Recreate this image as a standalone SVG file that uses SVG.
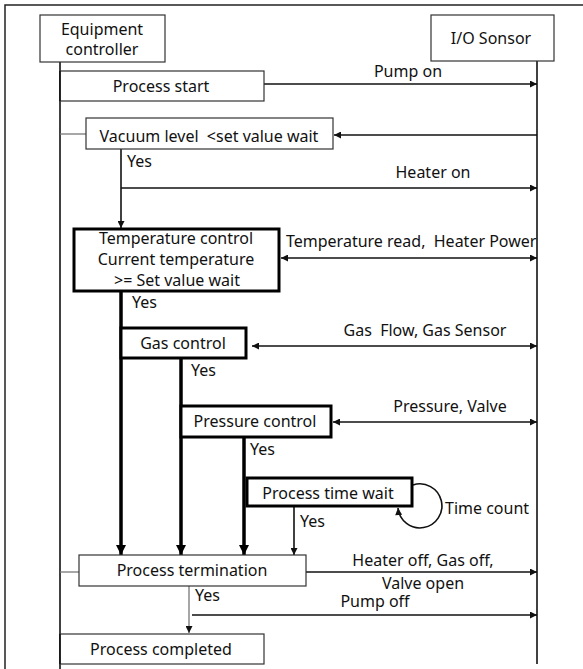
<svg xmlns="http://www.w3.org/2000/svg" width="583" height="669" viewBox="0 0 583 669">
<style>
text{font-family:"Noto Sans","Open Sans",sans-serif;font-size:16px;fill:#111;text-anchor:middle;white-space:pre}
.l{text-anchor:start}
.box{fill:#fff;stroke:#333;stroke-width:1.2}
.tbox{fill:#fff;stroke:#000;stroke-width:3}
.ln{fill:none;stroke:#111;stroke-width:1.6}
.gl{fill:none;stroke:#777;stroke-width:1.3}
.th{fill:none;stroke:#000;stroke-width:3.5}
</style>
<defs>
<marker id="a" viewBox="0 0 10 10" refX="10" refY="5" markerWidth="8" markerHeight="7" markerUnits="userSpaceOnUse" orient="auto-start-reverse"><path d="M0,0 L10,5 L0,10 z" fill="#111"/></marker>
<marker id="b" viewBox="0 0 10 10" refX="10" refY="5" markerWidth="10" markerHeight="10" markerUnits="userSpaceOnUse" orient="auto"><path d="M0,0 L10,5 L0,10 z" fill="#000"/></marker>
</defs>
<rect x="5" y="5" width="600" height="700" fill="#fff" stroke="#222" stroke-width="1.5"/>
<g id="connectors">
<line class="ln" x1="60" y1="62" x2="60" y2="669"/>
<line class="ln" x1="537" y1="61" x2="537" y2="664"/>
<line class="ln" x1="264" y1="84" x2="537" y2="84" marker-end="url(#a)"/>
<line class="gl" x1="60" y1="134" x2="86" y2="134"/>
<line class="ln" x1="537" y1="135" x2="334" y2="135" marker-end="url(#a)"/>
<line class="ln" x1="121" y1="149" x2="121" y2="228" marker-end="url(#a)"/>
<line class="ln" x1="121" y1="188" x2="537" y2="188" marker-end="url(#a)"/>
<line class="ln" x1="281" y1="258" x2="537" y2="258" marker-start="url(#a)" marker-end="url(#a)"/>
<line class="ln" x1="252" y1="346" x2="537" y2="346" marker-start="url(#a)" marker-end="url(#a)"/>
<line class="ln" x1="333" y1="422" x2="537" y2="422" marker-start="url(#a)" marker-end="url(#a)"/>
<line class="th" x1="121" y1="291" x2="121" y2="555" marker-end="url(#b)"/>
<line class="th" x1="181" y1="358" x2="181" y2="555" marker-end="url(#b)"/>
<line class="th" x1="244" y1="437" x2="244" y2="555" marker-end="url(#b)"/>
<line class="ln" x1="294" y1="506" x2="294" y2="555" marker-end="url(#a)"/>
<path class="ln" d="M413 485 A22 22 0 1 1 398 508" marker-end="url(#a)"/>
<line class="gl" x1="60" y1="572" x2="79" y2="572"/>
<line class="ln" x1="306" y1="572" x2="537" y2="572" marker-end="url(#a)"/>
<line class="gl" x1="189" y1="586" x2="189" y2="633" marker-end="url(#a)"/>
<line class="ln" x1="192" y1="615" x2="537" y2="615" marker-end="url(#a)"/>
</g>
<g id="equipment-controller"><rect class="box" x="40" y="15" width="125" height="47"/><text x="102" y="35">Equipment</text><text x="102" y="55">controller</text></g>
<g id="io-sensor"><rect class="box" x="431" y="15" width="123" height="46"/><text x="491" y="44">I/O Sonsor</text></g>
<g id="process-start"><rect class="box" x="60" y="71" width="204" height="30"/><line class="ln" x1="60" y1="71" x2="60" y2="101"/><text x="161" y="92">Process start</text><text x="408" y="76.5">Pump on</text></g>
<g id="vacuum"><rect class="box" x="86" y="118" width="247" height="31"/><text x="209" y="142">Vacuum level  &lt;set value wait</text><text class="l" x="127" y="167">Yes</text><text x="433" y="178">Heater on</text></g>
<g id="temperature"><rect class="tbox" x="74" y="229" width="205" height="62"/><text x="176" y="243.5">Temperature control</text><text x="176" y="265">Current temperature</text><text x="177" y="286">&gt;= Set value wait</text><text class="l" x="286" y="246.5">Temperature read,  Heater Power</text><text class="l" x="132" y="308">Yes</text></g>
<g id="gas"><rect class="tbox" x="121" y="328" width="125" height="30"/><text x="183" y="348.5">Gas control</text><text x="425" y="335.5">Gas  Flow, Gas Sensor</text><text class="l" x="191" y="376">Yes</text></g>
<g id="pressure"><rect class="tbox" x="181" y="406" width="150" height="31"/><text x="255" y="426.5">Pressure control</text><text x="450" y="411.5">Pressure, Valve</text><text class="l" x="250" y="455">Yes</text></g>
<g id="process-time"><rect class="tbox" x="247" y="478" width="165" height="28"/><text x="328" y="498.5">Process time wait</text><text class="l" x="445" y="513.5">Time count</text><text class="l" x="300" y="527">Yes</text></g>
<g id="termination"><rect class="box" x="79" y="555" width="227" height="31"/><text x="192" y="575.5">Process termination</text><text x="423" y="565.5">Heater off, Gas off,</text><text x="423" y="588.5">Valve open</text><text class="l" x="195" y="600.5">Yes</text><text x="375" y="606.5">Pump off</text></g>
<g id="completed"><rect class="box" x="60" y="634" width="204" height="30"/><line class="ln" x1="60" y1="634" x2="60" y2="664"/><text x="161" y="654.5">Process completed</text></g>
</svg>
